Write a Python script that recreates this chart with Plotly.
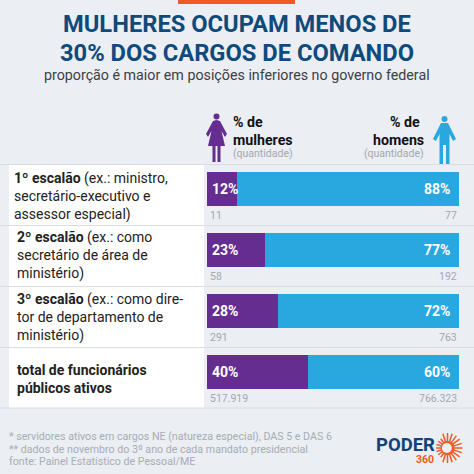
import math
import plotly.graph_objects as go

# ---- data ----
categories = ["1º escalão", "2º escalão", "3º escalão", "total"]
women_pct = [12, 23, 28, 40]
men_pct = [88, 77, 72, 60]
women_count = ["11", "58", "291", "517.919"]
men_count = ["77", "192", "763", "766.323"]
row_labels = [
    "<b>1º escalão</b> (ex.: ministro,<br>secretário-executivo e<br>assessor especial)",
    "<b>2º escalão</b> (ex.: como<br>secretário de área de<br>ministério)",
    "<b>3º escalão</b> (ex.: como dire-<br>tor de departamento de<br>ministério)",
    "<b>total de funcionários<br>públicos ativos</b>",
]
title_lines = ["MULHERES OCUPAM MENOS DE", "30% DOS CARGOS DE COMANDO"]
subtitle = "proporção é maior em posições inferiores no governo federal"
footnotes = [
    "* servidores ativos em cargos NE (natureza especial), DAS 5 e DAS 6",
    "** dados de novembro do 3º ano de cada mandato presidencial",
    "fonte: Painel Estatístico de Pessoal/ME",
]

PURPLE = "#662d91"
BLUE = "#29a8e0"
NAVY = "#0f4a7d"
ORANGE = "#f15a22"
BG = "#ebeef2"
W = H = 474
FONT = "Roboto"


def px(x):
    return x / W


def py(y):
    return 1 - y / H


fig = go.Figure()
fig.add_bar(y=categories, x=women_pct, orientation="h", marker=dict(color=PURPLE, line_width=0), showlegend=False)
fig.add_bar(y=categories, x=men_pct, orientation="h", marker=dict(color=BLUE, line_width=0), showlegend=False)

shapes = []


def rect(x0, y0, x1, y1, color):
    shapes.append(dict(type="rect", xref="paper", yref="paper", x0=px(x0), x1=px(x1), y0=py(y0), y1=py(y1),
                       fillcolor=color, line_width=0, layer="below"))


def line(x0, y0, x1, y1, color, width=1):
    shapes.append(dict(type="line", xref="paper", yref="paper", x0=px(x0), x1=px(x1), y0=py(y0), y1=py(y1),
                       line=dict(color=color, width=width), layer="below"))


def path(points, color):
    d = "M" + " L".join(f"{px(a):.5f},{py(b):.5f}" for a, b in points) + " Z"
    shapes.append(dict(type="path", xref="paper", yref="paper", path=d, fillcolor=color, line_width=0, layer="above"))


def circle(cx, cy, r, color):
    shapes.append(dict(type="circle", xref="paper", yref="paper", x0=px(cx - r), x1=px(cx + r),
                       y0=py(cy + r), y1=py(cy - r), fillcolor=color, line_width=0, layer="above"))


rect(178, 0, 295, 4, ORANGE)
rect(9, 165, 204, 408, "#ffffff")
for yy in [164.5, 225.5, 286.5, 347.5, 408]:
    line(0, yy, 474, yy, "#d9dde2", 1)

# woman icon
circle(216.5, 116.5, 3, PURPLE)
path([(216.5, 120), (220, 121), (227, 134), (225, 137), (221.5, 131), (225, 146), (220.5, 146), (220.5, 162),
      (217.5, 162), (217.5, 146), (215.5, 146), (215.5, 162), (212.5, 162), (212.5, 146), (208, 146), (211.5, 131),
      (208, 137), (206, 134), (213, 121)], PURPLE)
# man icon
circle(444.5, 119, 3, BLUE)
path([(441, 123), (448, 123), (456, 139), (453, 141), (449.5, 134), (449.5, 164), (446, 164), (446, 145), (443, 145),
      (443, 164), (439.5, 164), (439.5, 134), (436, 141), (433, 139)], BLUE)

# logo sun
SUN_X, SUN_Y = 447.5, 448
for deg in range(0, 360, 18):
    a = math.radians(deg)
    left = 110 <= deg <= 250
    r1 = 11.5 if left else 15
    x0, y0 = SUN_X + 6 * math.cos(a), SUN_Y + 6 * math.sin(a)
    x1, y1 = SUN_X + r1 * math.cos(a), SUN_Y + r1 * math.sin(a)
    shapes.append(dict(type="line", xref="paper", yref="paper", x0=px(x0), x1=px(x1), y0=py(y0), y1=py(y1),
                       line=dict(color=ORANGE, width=1.5), layer="above"))
circle(SUN_X, SUN_Y, 7, ORANGE)
circle(SUN_X - 0.7, SUN_Y, 5, BG)

ann = []


def text(x, y, s, size, color, anchor="left", family=FONT):
    ann.append(dict(xref="paper", yref="paper", x=px(x), y=py(y), text=s, showarrow=False, xanchor=anchor,
                    yanchor="middle", align=anchor, font=dict(family=family, size=size, color=color),
                    borderpad=0, borderwidth=0))


text(236.5, 24.5, f"<b>{title_lines[0]}</b>", 23.7, NAVY, "center")
text(236.5, 53, f"<b>{title_lines[1]}</b>", 23.7, NAVY, "center")
text(236.5, 74.5, subtitle, 14.25, "#3c4046", "center")

text(233, 122, "<b>% de</b>", 14.2, "#111111")
text(233, 139.5, "<b>mulheres</b>", 14.2, "#111111")
text(233, 153.5, "(quantidade)", 10.5, "#a3a8ae")
text(420, 122, "<b>% de</b>", 14.2, "#111111", "right")
text(424, 139.5, "<b>homens</b>", 14.2, "#111111", "right")
text(424, 153.5, "(quantidade)", 10.5, "#a3a8ae", "right")

row_x = [14, 16.5, 16.5, 16.5]
row_y = [196.5, 255, 317, 379]
row_size = [14, 14, 14, 14]
for lab, xx, yy, sz in zip(row_labels, row_x, row_y, row_size):
    text(xx, yy, lab, sz, "#222222")

for c, wp, mp, wc, mc in zip(categories, women_pct, men_pct, women_count, men_count):
    ann.append(dict(x=0, y=c, xref="x", yref="y", text=f"<b>{wp}%</b>", showarrow=False, xanchor="left", xshift=3,
                    font=dict(family=FONT, size=14, color="#ffffff")))
    ann.append(dict(x=100, y=c, xref="x", yref="y", text=f"<b>{mp}%</b>", showarrow=False, xanchor="right", xshift=-7,
                    font=dict(family=FONT, size=14, color="#ffffff")))
    ann.append(dict(x=0, y=c, xref="x", yref="y", text=wc, showarrow=False, xanchor="left", xshift=1, yshift=-26,
                    font=dict(family=FONT, size=10.5, color="#a3a8ae")))
    ann.append(dict(x=100, y=c, xref="x", yref="y", text=mc, showarrow=False, xanchor="right", yshift=-26,
                    font=dict(family=FONT, size=10.5, color="#a3a8ae")))

for note, yy in zip(footnotes, [436, 449, 461.5]):
    text(9, yy, note, 10.65, "#a7adb3")
text(376, 445, "<b>PODER</b>", 18.5, "#12427a")
text(416, 459.5, "<b>360</b>", 10.5, ORANGE)

fig.update_layout(
    width=W, height=H, autosize=False,
    margin=dict(l=0, r=0, t=0, b=0, pad=0),
    paper_bgcolor=BG, plot_bgcolor="rgba(0,0,0,0)",
    barmode="stack", bargap=0.443,
    xaxis=dict(domain=[px(207), px(459)], range=[0, 100], visible=False, fixedrange=True),
    yaxis=dict(domain=[py(402.8), py(158.8)], categoryorder="array", categoryarray=categories,
               range=[3.5, -0.5], autorange=False, visible=False, fixedrange=True),
    shapes=shapes, annotations=ann, showlegend=False,
)
fig.write_html("out.html", config={"displayModeBar": False},
               post_script="document.body.style.margin='0';document.documentElement.style.overflow='hidden';")
